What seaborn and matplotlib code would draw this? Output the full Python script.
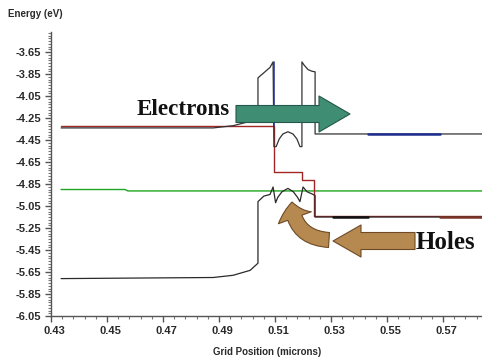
import numpy as np
import pandas as pd
import seaborn as sns
import matplotlib
matplotlib.use("Agg")
import matplotlib.pyplot as plt
from matplotlib.patches import FancyArrowPatch
from matplotlib.ticker import FixedLocator, MultipleLocator, FormatStrFormatter
from matplotlib.transforms import ScaledTranslation

# ---------------- data ----------------
# conduction band
ec_x = [0.4336, 0.4879, 0.4950, 0.5011, 0.5039, 0.5039, 0.5064, 0.5082, 0.5093,
        0.5096, 0.5104, 0.5115, 0.5128, 0.5146, 0.5164, 0.5178, 0.5189, 0.5196,
        0.5196, 0.5204, 0.5218, 0.5232, 0.5243, 0.5243, 0.5839]
ec_y = [-4.34, -4.34, -4.32, -4.28, -4.22, -3.885, -3.83, -3.79, -3.74,
        -4.51, -4.51, -4.44, -4.395, -4.375, -4.395, -4.44, -4.51, -4.51,
        -3.74, -3.77, -3.81, -3.825, -3.83, -4.395, -4.395]
# valence band
ev_x = [0.4336, 0.4879, 0.4950, 0.5011, 0.5039, 0.5039, 0.5060, 0.5082, 0.5093,
        0.5102, 0.5110, 0.5125, 0.5146, 0.5165, 0.5180, 0.5189, 0.5200, 0.5214,
        0.5232, 0.5243, 0.5243, 0.5839]
ev_y = [-5.71, -5.70, -5.68, -5.635, -5.57, -5.01, -4.96, -4.945, -4.877,
        -5.02, -4.97, -4.92, -4.89, -4.92, -4.97, -5.01, -4.877, -4.92,
        -4.94, -4.955, -5.15, -5.15]
# quasi-Fermi level (red)
qf_x = [0.4336, 0.5096, 0.5096, 0.5196, 0.5196, 0.5240, 0.5240, 0.5839]
qf_y = [-4.32, -4.32, -4.745, -4.745, -4.818, -4.818, -5.14, -5.14]
# equilibrium Fermi level (green)
ef_x = [0.4336, 0.4564, 0.4575, 0.5839]
ef_y = [-4.900, -4.900, -4.913, -4.913]
# highlighted pieces
blue_v_x = [0.5096, 0.5096]
blue_v_y = [-3.74, -4.32]
blue_h_x = [0.5432, 0.5689]
blue_h_y = [-4.395, -4.395]
blk_h_x = [0.5307, 0.5432]
blk_h_y = [-5.15, -5.15]
brn_h_x = [0.5689, 0.5839]
brn_h_y = [-5.15, -5.15]

x_ticks = [0.43, 0.45, 0.47, 0.49, 0.51, 0.53, 0.55, 0.57]
y_ticks = [-6.05, -5.85, -5.65, -5.45, -5.25, -5.05, -4.85, -4.65, -4.45,
           -4.25, -4.05, -3.85, -3.65]

# ---------------- figure ----------------
sns.set_style("white")
plt.rcParams["font.family"] = ["Liberation Sans", "DejaVu Sans"]
plt.rcParams["axes.unicode_minus"] = False

W, H = 482, 360
fig = plt.figure(figsize=(W / 100, H / 100), dpi=100)
ax = fig.add_axes([51 / W, 44 / H, 431 / W, 284 / H])


def line(x, y, color, lw=0.9, z=2):
    sns.lineplot(x=x, y=y, sort=False, estimator=None, color=color,
                 linewidth=lw, ax=ax, zorder=z, legend=False)


line(ef_x, ef_y, "#1fa51f", 1.0)
line(qf_x, qf_y, "#a32626", 1.0)
line(ec_x, ec_y, "#333333", 0.9, 3)
line(ev_x, ev_y, "#2a2a2a", 0.9, 3)
line(blue_v_x, blue_v_y, "#1f2f8f", 1.1, 4)
line(blue_h_x, blue_h_y, "#1f2f8f", 1.8, 4)
line(blk_h_x, blk_h_y, "#111111", 1.8, 4)
line(brn_h_x, brn_h_y, "#7a3528", 1.8, 4)

ax.set_xlim(0.43, 0.5839)
ax.set_ylim(-6.05, -3.468)
ax.set_xlabel("")
ax.set_ylabel("")

for s in ["top", "right"]:
    ax.spines[s].set_visible(False)
for s in ["left", "bottom"]:
    ax.spines[s].set_color("#555555")
    ax.spines[s].set_linewidth(1.0)

ax.xaxis.set_major_locator(FixedLocator(x_ticks))
ax.xaxis.set_minor_locator(FixedLocator(np.round(np.arange(0.43, 0.584, 0.004), 4)))
ax.yaxis.set_major_locator(FixedLocator(y_ticks))
ax.yaxis.set_minor_locator(MultipleLocator(0.025))
ax.xaxis.set_major_formatter(FormatStrFormatter("%.2f"))
ax.yaxis.set_major_formatter(FormatStrFormatter("%.2f"))
ax.tick_params(axis="both", which="major", direction="out", length=4.5, width=1.0,
               color="#555555", labelsize=8, labelcolor="#2a2a2a", pad=2.5,
               left=True, bottom=True)
ax.tick_params(axis="both", which="minor", direction="out", length=2.2, width=0.8,
               color="#777777", left=True, bottom=True)
for lab in ax.get_xticklabels() + ax.get_yticklabels():
    lab.set_fontweight("bold")
for lab in ax.get_xticklabels():
    lab.set_transform(lab.get_transform() + ScaledTranslation(3 / 100, 0, fig.dpi_scale_trans))


def fx(px):
    return px / W


def fy(py):
    return 1 - py / H


fig.text(fx(8), fy(14), "Energy (eV)", fontsize=7, fontweight="bold",
         color="#2a2a2a", ha="left", va="center")
fig.text(fx(267), fy(352), "Grid Position (microns)", fontsize=7,
         fontweight="bold", color="#2a2a2a", ha="center", va="center")

# arrows (annotations, in pixel positions)
pt = 0.72  # px -> pt at 100 dpi
green = FancyArrowPatch((fx(236), fy(114)), (fx(350), fy(114)),
                        transform=fig.transFigure,
                        arrowstyle=f"simple,head_length={31*pt},head_width={36*pt},tail_width={17*pt}",
                        shrinkA=0, shrinkB=0, fc="#3f8d73", ec="#24584a", lw=0.8,
                        zorder=5)
fig.patches.append(green)

holes_arrow = FancyArrowPatch((fx(415), fy(241)), (fx(333), fy(241)),
                              transform=fig.transFigure,
                              arrowstyle=f"simple,head_length={28*pt},head_width={32*pt},tail_width={17*pt}",
                              shrinkA=0, shrinkB=0, fc="#b5894f", ec="#6e4b26", lw=0.8,
                              zorder=5)
fig.patches.append(holes_arrow)

curved = FancyArrowPatch((fx(329), fy(240)), (fx(292), fy(202)),
                         transform=fig.transFigure,
                         connectionstyle="arc3,rad=-0.45",
                         arrowstyle=f"simple,head_length={16*pt},head_width={35*pt},tail_width={15*pt}",
                         shrinkA=0, shrinkB=0, fc="#b5894f", ec="#6e4b26", lw=0.8,
                         zorder=5)
fig.patches.append(curved)

fig.text(fx(137), fy(115), "Electrons", fontsize=16.6, fontweight="bold",
         family=["Liberation Serif", "DejaVu Serif"], color="#111111",
         ha="left", va="baseline")
fig.text(fx(416), fy(249), "Holes", fontsize=18, fontweight="bold",
         family=["Liberation Serif", "DejaVu Serif"], color="#111111",
         ha="left", va="baseline")

fig.savefig("out.png", dpi=100)
